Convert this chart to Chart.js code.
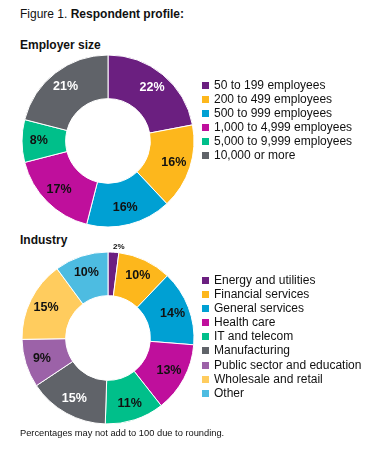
<!DOCTYPE html>
<html>
<head>
<meta charset="utf-8">
<script src="https://cdn.jsdelivr.net/npm/chart.js@4"></script>
<style>
  body { margin: 0; background: #fff; font-family: "Liberation Sans", Arial, sans-serif; color: #111; }
  #wrap { position: relative; width: 378px; height: 462px; overflow: hidden; }
  .txt { position: absolute; white-space: nowrap; }
  #title { left: 20px; top: 7px; font-size: 12px; }
  .head { left: 20px; font-size: 12px; font-weight: bold; }
  canvas { position: absolute; }
  .legend { position: absolute; left: 202px; font-size: 12px; line-height: 14.1px; }
  .legend div { white-space: nowrap; }
  .legend span { display: inline-block; width: 7px; height: 7px; margin-right: 5px; vertical-align: 0px; }
  #note { left: 20px; top: 428px; font-size: 9.3px; }
</style>
</head>
<body>
<div id="wrap">
  <div class="txt" id="title">Figure 1. <b>Respondent profile:</b></div>
  <div class="txt head" style="top:38px">Employer size</div>
  <div class="txt head" style="top:233px">Industry</div>
  <canvas id="sizeChart" width="200" height="200" style="left:8px; top:41px"></canvas>
  <canvas id="industryChart" width="200" height="200" style="left:8px; top:238px"></canvas>
  <div class="legend" id="sizeLegend" style="top:78px"></div>
  <div class="legend" id="industryLegend" style="top:273px"></div>
  <div class="txt" id="note">Percentages may not add to 100 due to rounding.</div>
</div>
<script>
const sizeLabels = ['50 to 199 employees', '200 to 499 employees', '500 to 999 employees',
    '1,000 to 4,999 employees', '5,000 to 9,999 employees', '10,000 or more'];
const sizeValues = [22, 16, 16, 17, 8, 21];
const sizeColors = ['#6B1F80', '#FDB71C', '#00A0D3', '#BF0F9C', '#00BF8A', '#606369'];
const sizeTextColors = ['#fff', '#111', '#111', '#111', '#111', '#fff'];

const industryLabels = ['Energy and utilities', 'Financial services', 'General services', 'Health care',
    'IT and telecom', 'Manufacturing', 'Public sector and education', 'Wholesale and retail', 'Other'];
const industryValues = [2, 10, 14, 13, 11, 15, 9, 15, 10];
const industryColors = ['#6B1F80', '#FDB71C', '#00A0D3', '#BF0F9C', '#00BF8A', '#606369',
    '#9C62A8', '#FFCC5E', '#4DBCE1'];
const industryTextColors = ['#111', '#111', '#111', '#111', '#111', '#fff', '#111', '#111', '#111'];

function buildLegend(id, labels, colors) {
    const el = document.getElementById(id);
    labels.forEach((l, i) => {
        const row = document.createElement('div');
        row.innerHTML = '<span style="background:' + colors[i] + '"></span>' + l;
        el.appendChild(row);
    });
}
buildLegend('sizeLegend', sizeLabels, sizeColors);
buildLegend('industryLegend', industryLabels, industryColors);

// draws the percentage inside each slice (small slices go outside)
const sliceLabels = {
    id: 'sliceLabels',
    afterDatasetsDraw(chart) {
        const ctx = chart.ctx;
        const ds = chart.data.datasets[0];
        const meta = chart.getDatasetMeta(0);
        ctx.save();
        ctx.textAlign = 'center';
        ctx.textBaseline = 'middle';
        meta.data.forEach((arc, i) => {
            const p = arc.getProps(['x', 'y', 'startAngle', 'endAngle', 'innerRadius', 'outerRadius'], true);
            const mid = (p.startAngle + p.endAngle) / 2;
            let r = (p.innerRadius + p.outerRadius) / 2 + 5;
            let size = 12.5;
            if (ds.data[i] < 5) {
                r = p.outerRadius + 5;
                size = 8;
            }
            let x = p.x + Math.cos(mid) * r;
            const y = p.y + Math.sin(mid) * r;
            if (ds.data[i] < 5) x += 5;
            ctx.font = 'bold ' + size + 'px "Liberation Sans", Arial, sans-serif';
            ctx.fillStyle = ds.data[i] < 5 ? '#111' : ds.textColors[i];
            ctx.fillText(ds.data[i] + '%', x, y);
        });
        ctx.restore();
    }
};

function makeDonut(id, labels, values, colors, textColors) {
    return new Chart(document.getElementById(id), {
        type: 'doughnut',
        data: {
            labels: labels,
            datasets: [{
                data: values,
                backgroundColor: colors,
                textColors: textColors,
                borderColor: '#fff',
                borderWidth: 1
            }]
        },
        options: {
            responsive: false,
            animation: false,
            radius: 86,
            cutout: 49,
            plugins: {
                legend: { display: false },
                tooltip: { enabled: false }
            }
        },
        plugins: [sliceLabels]
    });
}

makeDonut('sizeChart', sizeLabels, sizeValues, sizeColors, sizeTextColors);
makeDonut('industryChart', industryLabels, industryValues, industryColors, industryTextColors);
</script>
</body>
</html>
